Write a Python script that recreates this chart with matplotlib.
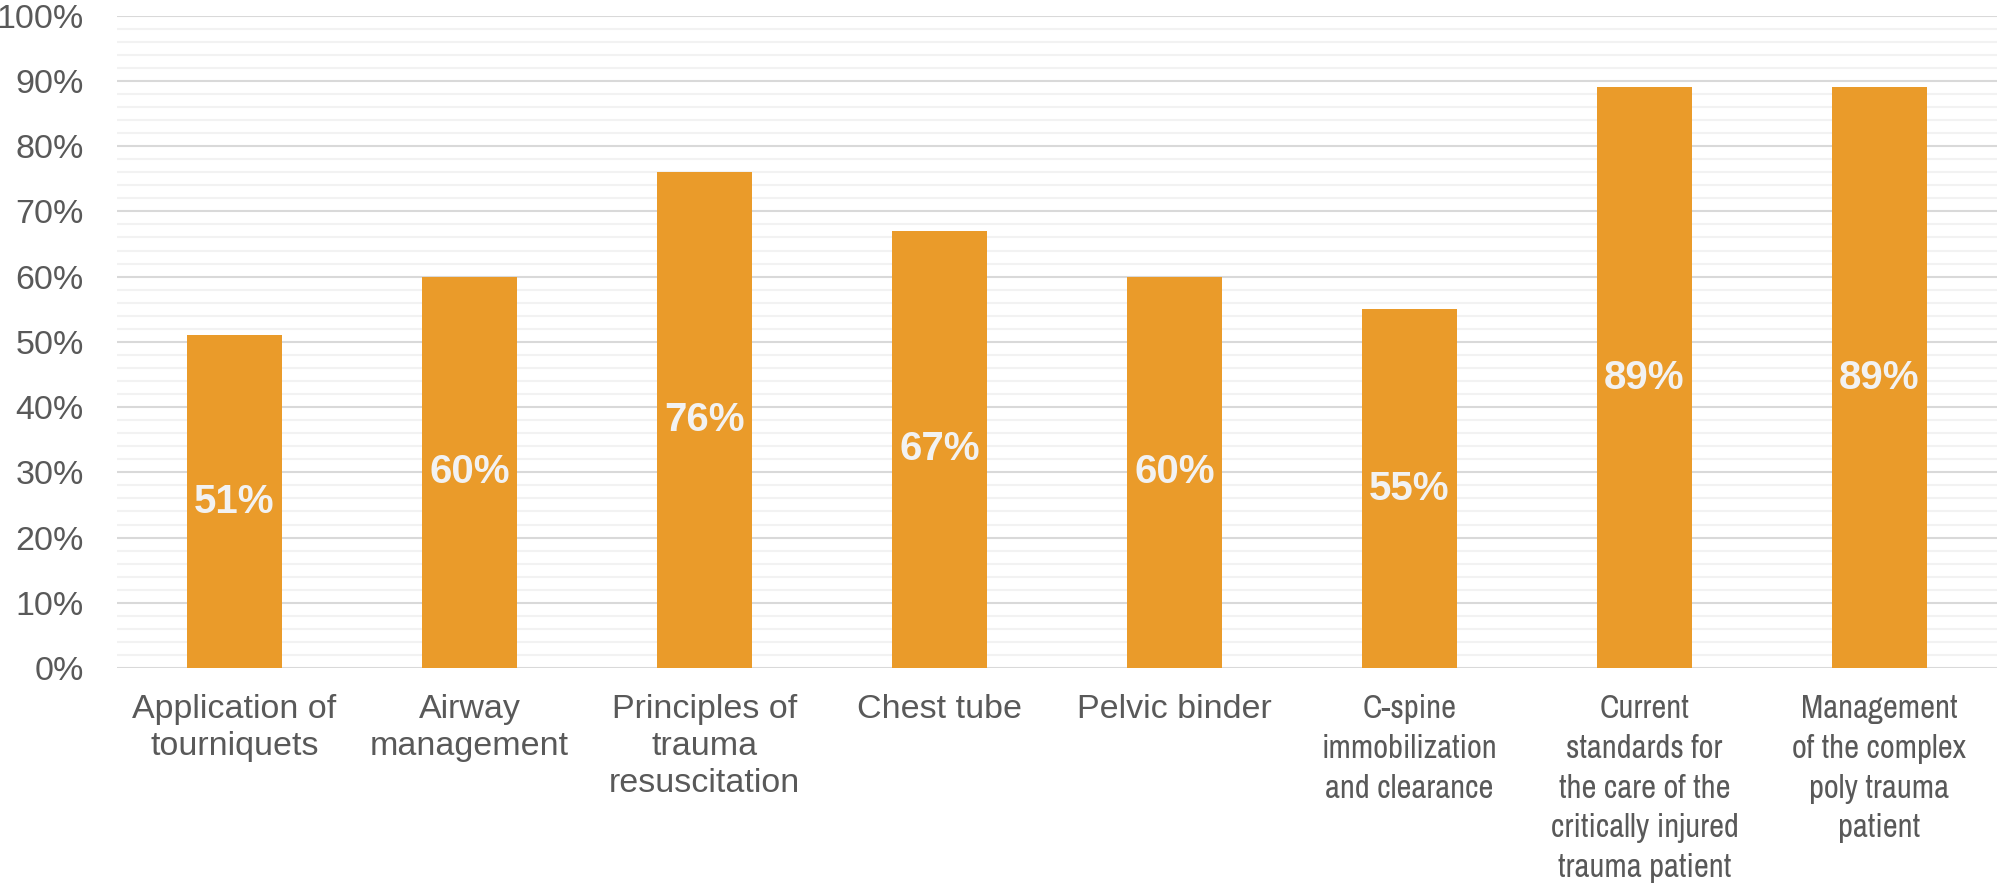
import numpy as np
import matplotlib.pyplot as plt
from matplotlib import font_manager
from matplotlib.ticker import MultipleLocator, FuncFormatter

# topic names and share of respondents (percent)
topics = [
    "Application of\ntourniquets",
    "Airway\nmanagement",
    "Principles of\ntrauma\nresuscitation",
    "Chest tube",
    "Pelvic binder",
    "C-spine\nimmobilization\nand clearance",
    "Current\nstandards for\nthe care of the\ncritically injured\ntrauma patient",
    "Management\nof the complex\npoly trauma\npatient",
]
shares = [51, 60, 76, 67, 60, 55, 89, 89]
# the long labels get squeezed into a narrow face
narrow_idx = [5, 6, 7]

bar_color = '#EA9B2A'
text_grey = '#595959'

plt.rcParams['font.family'] = ['Liberation Sans', 'DejaVu Sans']

installed = {f.name for f in font_manager.fontManager.ttflist}
narrow_font = None
for cand in ['Liberation Sans Narrow', 'Arial Narrow', 'Archivo Narrow',
             'Roboto Condensed', 'PT Sans Narrow']:
    if cand in installed:
        narrow_font = cand
        break

fig = plt.figure(figsize=(19.99, 8.90), dpi=100)
ax = fig.add_axes([0.0585, 0.2494, 0.9405, 0.733])

x = np.arange(len(topics))
bars = ax.bar(x, shares, width=0.405, color=bar_color, zorder=3)

for rect, val in zip(bars, shares):
    ax.text(rect.get_x() + rect.get_width() / 2, val / 2, f"{val}%",
            ha='center', va='center', color='#F2F2F2',
            fontsize=29, fontweight='bold', zorder=4)

ax.set_xlim(-0.5, len(topics) - 0.5)
ax.set_ylim(0, 100)
ax.yaxis.set_major_locator(MultipleLocator(10))
ax.yaxis.set_minor_locator(MultipleLocator(2))
ax.yaxis.set_major_formatter(FuncFormatter(lambda v, p: f"{v:.0f}%"))

ax.grid(axis='y', which='minor', color='#F2F2F2', linewidth=1.5, zorder=0)
ax.grid(axis='y', which='major', color='#D9D9D9', linewidth=1.5, zorder=1)
ax.set_axisbelow(True)

ax.set_xticks(x)
ax.set_xticklabels(topics, fontsize=24.5, color=text_grey, linespacing=1.25,
                   va='top')
for i, lab in enumerate(ax.get_xticklabels()):
    if i in narrow_idx:
        if narrow_font:
            lab.set_fontfamily([narrow_font, 'Liberation Sans'])
            lab.set_fontsize(23.5)
            lab.set_linespacing(1.4)
        else:
            lab.set_fontsize(20)

ax.tick_params(axis='x', length=0, pad=19)
ax.tick_params(axis='y', which='both', length=0, pad=24,
               labelsize=24.5, labelcolor=text_grey)

for side in ['top', 'right', 'left', 'bottom']:
    ax.spines[side].set_visible(False)

fig.savefig('out.png', dpi=100, facecolor='white')
